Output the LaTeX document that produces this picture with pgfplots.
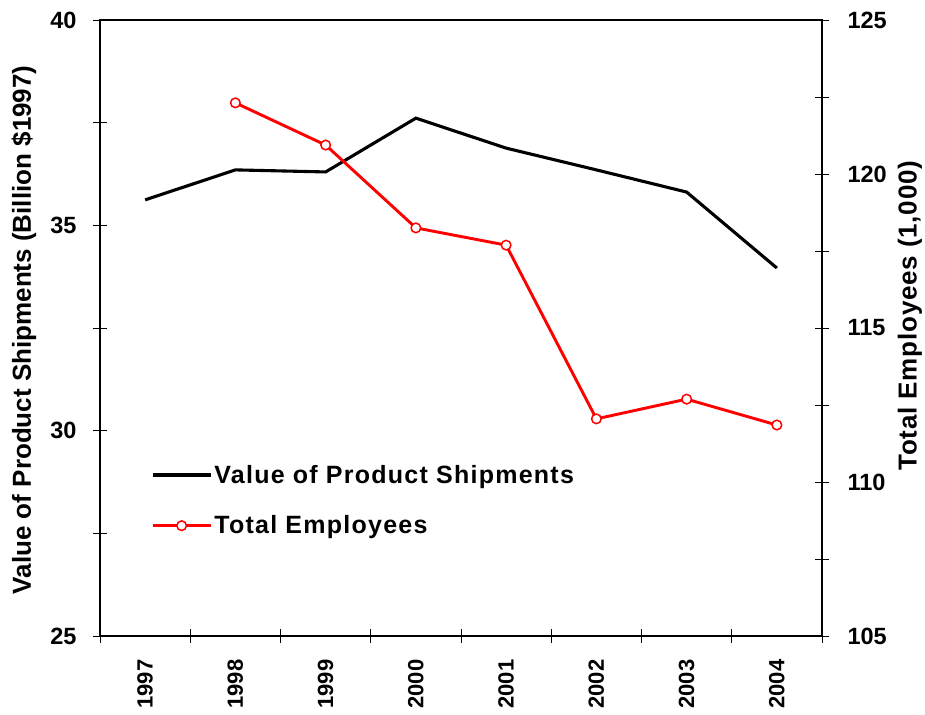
\documentclass[border=0pt]{standalone}
\usepackage{pgfplots}
\pgfplotsset{compat=1.18}
\usetikzlibrary{calc}
\usepackage{fontspec}
\setmainfont{Liberation Sans}
\newfontfamily\legfont[LetterSpace=5]{Liberation Sans}
\newfontfamily\rlabfont[LetterSpace=3]{Liberation Sans}
\begin{document}
\begin{tikzpicture}
\pgfplotsset{
 common/.style={
  scale only axis, width=722pt, height=616pt,
  xmin=-0.5, xmax=7.5,
  tick align=center, major tick length=14pt, minor tick length=14pt,
  every tick/.style={black, line width=0.9pt},
  axis line style={line width=1.1pt},
  /pgf/number format/assume math mode=true,
  ticklabel style={font=\fontsize{23.5}{23.5}\selectfont\bfseries},
 }
}
\begin{axis}[common, name=ax1,
  ymin=25, ymax=40,
  ytick={25,30,35,40}, minor ytick={27.5,32.5,37.5},
  xtick={0,...,7},
  xticklabels={1997,1998,1999,2000,2001,2002,2003,2004},
  minor xtick={-0.5,0.5,...,7.5},
  major x tick style={draw=none},
  xtick pos=bottom, ytick pos=left,
  xticklabel style={rotate=90, anchor=east, font=\fontsize{22}{22}\selectfont\bfseries},
  yticklabel shift=13pt,
  xticklabel shift=13pt,
  ylabel={Value of Product Shipments (Billion \$1997)},
  ylabel style={at={(axis description cs:-0.1053,0.497)}, anchor=center, font=\fontsize{26}{26}\selectfont\bfseries},
  legend style={at={(rel axis cs:0.066,0.284)}, anchor=north west, draw=none, fill=none,
    font=\fontsize{25}{25}\selectfont\legfont\bfseries, row sep=27pt},
  legend cell align=left,
  legend image code/.code={\draw[mark repeat=2,mark phase=2,#1] plot coordinates {(0pt,0pt)(29pt,0pt)(58pt,0pt)};},
]
\addplot[black, line width=3.1pt, mark=none, forget plot] coordinates {
 (0,35.62)(1,36.35)(2,36.30)(3,37.61)(4,36.88)(5,36.35)(6,35.81)(7,33.96)};
\addlegendimage{black, line width=3.6pt, mark=none}
\addlegendentry{Value of Product Shipments}
\addlegendimage{red, line width=2.9pt, mark=*, mark size=4.8pt, mark options={fill=white, draw=red, line width=1.5pt}}
\addlegendentry{Total Employees}
\end{axis}
\begin{axis}[common,
  ymin=105, ymax=125,
  ytick={105,110,...,125}, minor ytick={107.5,112.5,117.5,122.5},
  hide x axis,
  axis y line*=right,
  ytick pos=right,
  yticklabel shift=15pt,
  ylabel={Total Employees (1,000)},
  ylabel style={at={(axis description cs:1.1219,0.52)}, anchor=center, rotate=0, font=\fontsize{26}{26}\selectfont\rlabfont\bfseries},
]
\addplot[red, line width=2.9pt, mark=*, mark size=4.8pt, mark options={fill=white, draw=red, line width=1.5pt}] coordinates {
 (1,122.31)(2,120.94)(3,118.25)(4,117.69)(5,112.05)(6,112.69)(7,111.85)};
\end{axis}
\pgfresetboundingbox
\path ($(ax1.south west)+(-100pt,-78pt)$) rectangle ($(ax1.north east)+(103pt,20pt)$);
\end{tikzpicture}
\end{document}
